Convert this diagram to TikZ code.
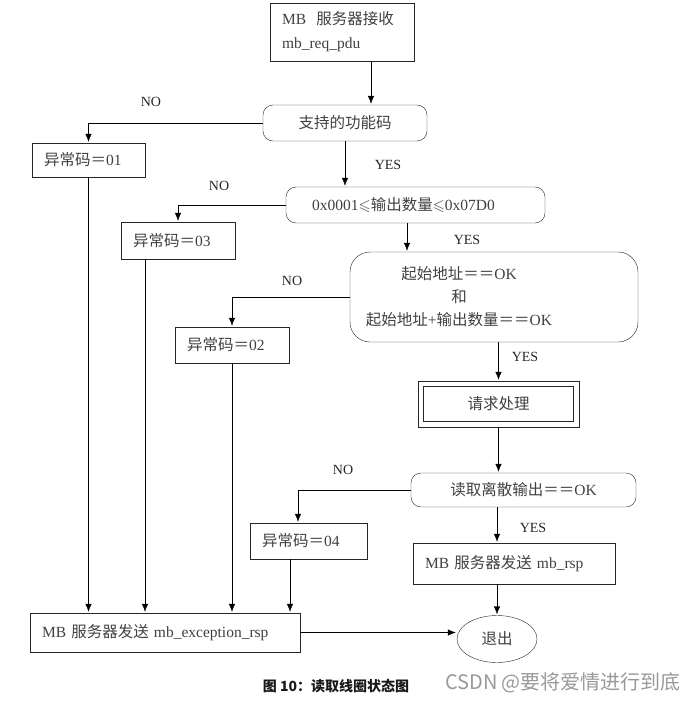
\documentclass[tikz,border=0pt]{standalone}
\usepackage{amssymb}
\usepackage{fontspec}
\setmainfont{Liberation Serif}
\newfontfamily\cjk{Noto Sans CJK SC}
\newcommand{\zh}[1]{{\cjk #1}}
\usetikzlibrary{arrows.meta, shapes.geometric}

\begin{document}
\begin{tikzpicture}[x=1pt, y=-1pt]
\tikzset{ >={Latex[length=9pt,width=7pt]}, line width=0.8pt, draw=black!85,
  every node/.style={font=\fontsize{15.5}{18}\selectfont, text=black!75},
  box/.style={draw=black!85, rectangle, align=left, inner xsep=12pt, inner ysep=0pt},
  dec/.style={draw=black!85, rectangle, rounded corners=10pt, align=center, inner sep=0pt},
  dbl/.style={draw=black!85, rectangle, inner sep=0pt},
  term/.style={draw=black!85, ellipse, inner sep=0pt},
  lbl/.style={font=\fontsize{14}{16}\selectfont, text=black!85},
}

\useasboundingbox (0,0) rectangle (695,701);

%\draw [lightgray, dashed](0,0) grid [step=50] (695,701);

\node [box, text width=120pt, minimum height=58pt] (recv) at (342,32) {MB\ \ \zh{服务器接收}\\[6pt]mb\_req\_pdu};
\node [dec, minimum width=164pt, minimum height=36pt] (dec1) at (345,123) {\zh{支持的功能码}};
\node [dec, minimum width=259pt, minimum height=36pt,
       label={[xshift=-12pt]center:0x0001$\leqslant$\zh{输出数量}$\leqslant$0x07D0}] (dec2) at (415.5,205) {};
\node [dec, rounded corners=20pt, minimum width=288pt, minimum height=90pt,
       label={[align=center, xshift=-35pt]center:\zh{起始地址＝＝}OK\\[5pt]\zh{和}\\[5pt]\zh{起始地址}+\zh{输出数量＝＝}OK}] (dec3) at (494,297) {};
\node [dbl, minimum width=161pt, minimum height=46pt] (work) at (498.5,404) {\zh{请求处理}};
\draw [black!85] ([shift={(6pt,-6pt)}]work.north west) rectangle ([shift={(-6pt,6pt)}]work.south east);
\node [dec, minimum width=225pt, minimum height=34pt] (dec4) at (523.5,490) {\zh{读取离散输出＝＝}OK};

\node [box, text width=89pt, minimum height=34pt] (e01) at (88.5,160) {\zh{异常码＝}01};
\node [box, text width=90pt, minimum height=37pt] (e03) at (178,240.5) {\zh{异常码＝}03};
\node [box, text width=90pt, minimum height=36pt] (e02) at (232,345) {\zh{异常码＝}02};
\node [box, text width=93pt, minimum height=36pt] (e04) at (308.5,541) {\zh{异常码＝}04};

\node [box, text width=178pt, minimum height=41pt] (rsp) at (514,563.5) {MB \zh{服务器发送} mb\_rsp};
\node [box, text width=246pt, minimum height=39pt] (exc) at (165,632.5) {MB \zh{服务器发送} mb\_exception\_rsp};
\node [term, minimum width=80pt, minimum height=47pt] (quit) at (497,639) {\zh{退出}};

% main path
\draw [->] ([xshift=29pt]recv.south) -- ([xshift=29pt]recv.south |- dec1.north);
\draw [->] (dec1.south) -- (dec1.south |- dec2.north);
\draw [->] ([xshift=-8.5pt]dec2.south) -- ([xshift=-8.5pt]dec2.south |- dec3.north);
\draw [->] (work.north |- dec3.south) -- (work.north);
\draw [->] (work.south) -- (work.south |- dec4.north);
\draw [->] (quit.north |- dec4.south) -- (quit.north |- rsp.north);
\draw [->] (quit.north |- rsp.south) -- (quit.north);

% error branches
\draw [->] (dec1.west) -| (e01.north);
\draw [->] (dec2.west) -| (e03.north);
\draw [->] (dec3.west) -| (e02.north);
\draw [->] (dec4.west) -| ([xshift=-10.5pt]e04.north);

\draw [->] (e01.south) -- (e01.south |- exc.north);
\draw [->] ([xshift=-33pt]e03.south) -- ([xshift=-33pt]e03.south |- exc.north);
\draw [->] (e02.south) -- (e02.south |- exc.north);
\draw [->] ([xshift=-18.5pt]e04.south) -- ([xshift=-18.5pt]e04.south |- exc.north);
\draw [->] (exc.east) -- (quit.west |- exc.east);

\node [lbl] (no1) at (151,102) {NO};
\node [lbl] (no2) at (219,186) {NO};
\node [lbl] (no3) at (292,281) {NO};
\node [lbl] (no4) at (343,470) {NO};
\node [lbl] (yes1) at (388,165) {YES};
\node [lbl] (yes2) at (467,240) {YES};
\node [lbl] (yes3) at (525,357) {YES};
\node [lbl] (yes4) at (533,528) {YES};

\node [font=\fontsize{14}{16}\selectfont, text=black!90] (cap) at (336,686) {\cjk\bfseries 图 10：读取线圈状态图};
\node [font=\fontsize{20}{22}\selectfont, text=black!40] (wm) at (563,683) {\cjk CSDN @要将爱情进行到底};
\end{tikzpicture}
\end{document}
